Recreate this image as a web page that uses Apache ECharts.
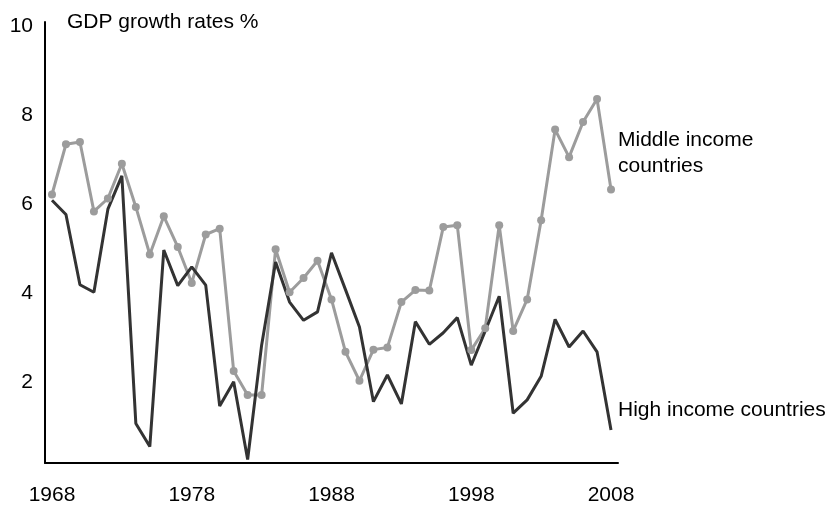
<!DOCTYPE html>
<html>
<head>
<meta charset="utf-8">
<script src="https://cdn.jsdelivr.net/npm/echarts@6/dist/echarts.min.js"></script>
<style>
  html, body { margin: 0; padding: 0; background: #fff; }
  #chart { width: 830px; height: 506px; }
</style>
</head>
<body>
<div id="chart"></div>
<script>
// years on the x axis
var years = [];
for (var y = 1968; y <= 2008; y++) years.push(String(y));

// GDP growth rates %
var middleIncome = [6.22, 7.35, 7.40, 5.84, 6.13, 6.91, 5.94, 4.87, 5.73, 5.04,
  4.23, 5.32, 5.45, 2.25, 1.71, 1.71, 4.99, 4.02, 4.34, 4.73,
  3.86, 2.68, 2.03, 2.73, 2.78, 3.80, 4.07, 4.06, 5.49, 5.53,
  2.72, 3.21, 5.53, 3.15, 3.86, 5.64, 7.68, 7.06, 7.85, 8.37,
  6.33];
var highIncome = [6.09, 5.77, 4.19, 4.02, 5.89, 6.64, 1.07, 0.55, 4.97, 4.17,
  4.59, 4.18, 1.46, 2.01, 0.26, 2.83, 4.70, 3.80, 3.39, 3.58,
  4.91, 4.08, 3.24, 1.56, 2.16, 1.51, 3.36, 2.85, 3.11, 3.45,
  2.38, 3.15, 3.93, 1.30, 1.60, 2.13, 3.41, 2.79, 3.15, 2.68,
  0.92];

var font = "'Liberation Sans', Arial, sans-serif";

document.addEventListener('DOMContentLoaded', function () {
  var chart = echarts.init(document.getElementById('chart'));
  var option = {
    animation: false,
    title: {
      text: 'GDP growth rates %',
      left: 62, top: 7,
      textStyle: { fontSize: 21, fontWeight: 'normal', color: '#000', fontFamily: font }
    },
    grid: { left: 45, right: 212, top: 22, bottom: 43 },
    xAxis: {
      type: 'category',
      data: years,
      boundaryGap: true,
      axisLine: { lineStyle: { color: '#000', width: 2 } },
      axisTick: { show: false },
      axisLabel: { interval: 9, margin: 22, fontSize: 21, color: '#000', fontFamily: font }
    },
    yAxis: {
      type: 'value',
      min: 0.18, max: 10.1,
      splitLine: { show: false },
      axisLine: { show: true, lineStyle: { color: '#000', width: 2 } },
      axisTick: { show: false },
      axisLabel: {
        margin: 12, fontSize: 21, color: '#000', fontFamily: font,
        // only the even whole numbers carry a label
        formatter: function (v) { return (Math.abs(v - Math.round(v)) < 1e-6 && Math.round(v) % 2 === 0 && v > 1) ? String(Math.round(v)) : ''; }
      }
    },
    series: [
      {
        name: 'Middle income countries',
        type: 'line',
        data: middleIncome,
        symbol: 'circle', symbolSize: 8,
        itemStyle: { color: '#9c9c9c' },
        lineStyle: { color: '#9c9c9c', width: 3 },
        endLabel: {
          show: true, formatter: 'Middle income\ncountries',
          offset: [-1, -36], fontSize: 21, lineHeight: 26, color: '#000', fontFamily: font
        }
      },
      {
        name: 'High income countries',
        type: 'line',
        data: highIncome,
        showSymbol: false,
        lineStyle: { color: '#333333', width: 3 },
        endLabel: {
          show: true, formatter: 'High income countries',
          offset: [-1, -20], fontSize: 21, color: '#000', fontFamily: font
        }
      }
    ]
  };
  chart.setOption(option);
});
</script>
</body>
</html>
